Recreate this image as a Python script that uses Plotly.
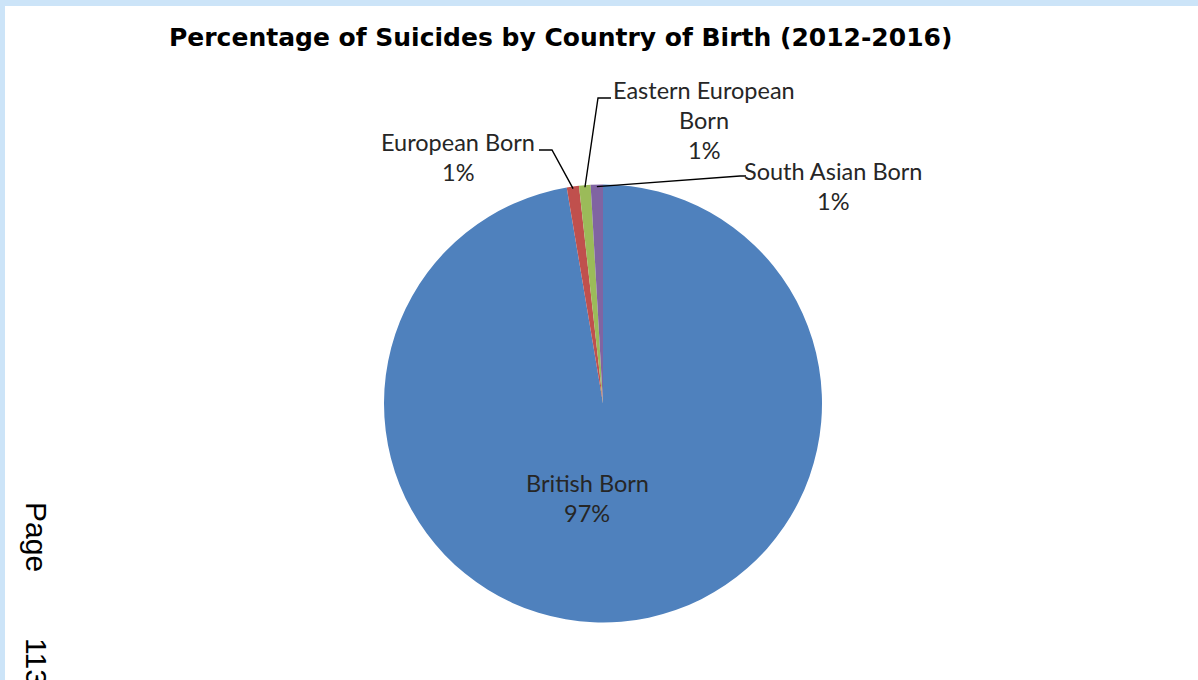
import math
import plotly.graph_objects as go

# ---- data ----
categories = ["British Born", "European Born", "Eastern European Born", "South Asian Born"]
values = [97.35, 0.9, 0.85, 0.9]
colors = ["#4F81BD", "#C0504D", "#9BBB59", "#8064A2"]
title_text = "Percentage of Suicides by Country of Birth (2012-2016)"

W, H = 1198, 680
CX, CY, R = 603, 403.5, 219


def px(x):
    return x / W


def py(y):
    return 1 - y / H


fig = go.Figure()
fig.add_trace(go.Pie(
    labels=categories,
    values=values,
    sort=False,
    direction="clockwise",
    rotation=0,
    textinfo="none",
    hoverinfo="label+percent",
    marker=dict(colors=colors, line=dict(width=0)),
    domain=dict(x=[px(CX - R), px(CX + R)], y=[py(CY + R), py(CY - R)]),
    showlegend=False,
))

total = sum(values)
pcts = [f"{round(v / total * 100)}%" for v in values]


# mid-angle point on the rim of each slice (clockwise from 12 o'clock)
def rim_point(i, rr=R - 2):
    start = sum(values[:i]) / total
    mid = (start + values[i] / total / 2) * 2 * math.pi
    return CX + rr * math.sin(mid), CY - rr * math.cos(mid)


label_font = dict(family="Lato, Carlito, Calibri, sans-serif", size=23.5, color="#262626")
annotations = []


def add_lines(lines, cx, cy0, spacing=30):
    for k, t in enumerate(lines):
        annotations.append(dict(
            x=px(cx), y=py(cy0 + k * spacing), xref="paper", yref="paper",
            text=t, showarrow=False, font=label_font, xanchor="center", yanchor="middle",
        ))


add_lines(["British Born", pcts[0]], 587, 483)
add_lines(["European Born", pcts[1]], 458, 142)
add_lines(["Eastern European", "Born", pcts[2]], 704, 90)
add_lines(["South Asian Born", pcts[3]], 833, 171)

# title
annotations.append(dict(
    x=px(560), y=py(37), xref="paper", yref="paper", text="<b>" + title_text + "</b>",
    showarrow=False, font=dict(family="DejaVu Sans, Liberation Sans, sans-serif", size=25, color="#000000"),
    xanchor="center", yanchor="middle",
))

# page number
annotations.append(dict(
    x=px(37), y=py(537), xref="paper", yref="paper", text="Page", textangle=90,
    showarrow=False, font=dict(family="Liberation Sans, Arial, sans-serif", size=30, color="#000000"),
    xanchor="center", yanchor="middle",
))
annotations.append(dict(
    x=px(37), y=py(662), xref="paper", yref="paper", text="113", textangle=90,
    showarrow=False, font=dict(family="Liberation Sans, Arial, sans-serif", size=30, color="#000000"),
    xanchor="center", yanchor="middle",
))


# leader lines
def path(points):
    return "M " + " L ".join(f"{px(x)} {py(y)}" for x, y in points)


ex, ey = rim_point(1)
gx, gy = rim_point(2)
sx, sy = rim_point(3)
line_style = dict(color="#000000", width=1.4)
shapes = [
    dict(type="rect", xref="paper", yref="paper", x0=0, x1=1, y0=py(6), y1=1,
         fillcolor="#CCE4F8", line=dict(width=0), layer="below"),
    dict(type="rect", xref="paper", yref="paper", x0=0, x1=px(5), y0=0, y1=1,
         fillcolor="#CCE4F8", line=dict(width=0), layer="below"),
    dict(type="path", xref="paper", yref="paper", path=path([(539, 150), (552, 150), (ex, ey)]), line=line_style),
    dict(type="path", xref="paper", yref="paper", path=path([(611, 98), (598, 98), (gx, gy)]), line=line_style),
    dict(type="path", xref="paper", yref="paper", path=path([(sx, sy), (740, 176), (746, 176)]), line=line_style),
]

fig.update_layout(
    width=W, height=H,
    margin=dict(l=0, r=0, t=0, b=0),
    paper_bgcolor="#FFFFFF",
    plot_bgcolor="#FFFFFF",
    annotations=annotations,
    shapes=shapes,
)

fig.write_html("out.html")
